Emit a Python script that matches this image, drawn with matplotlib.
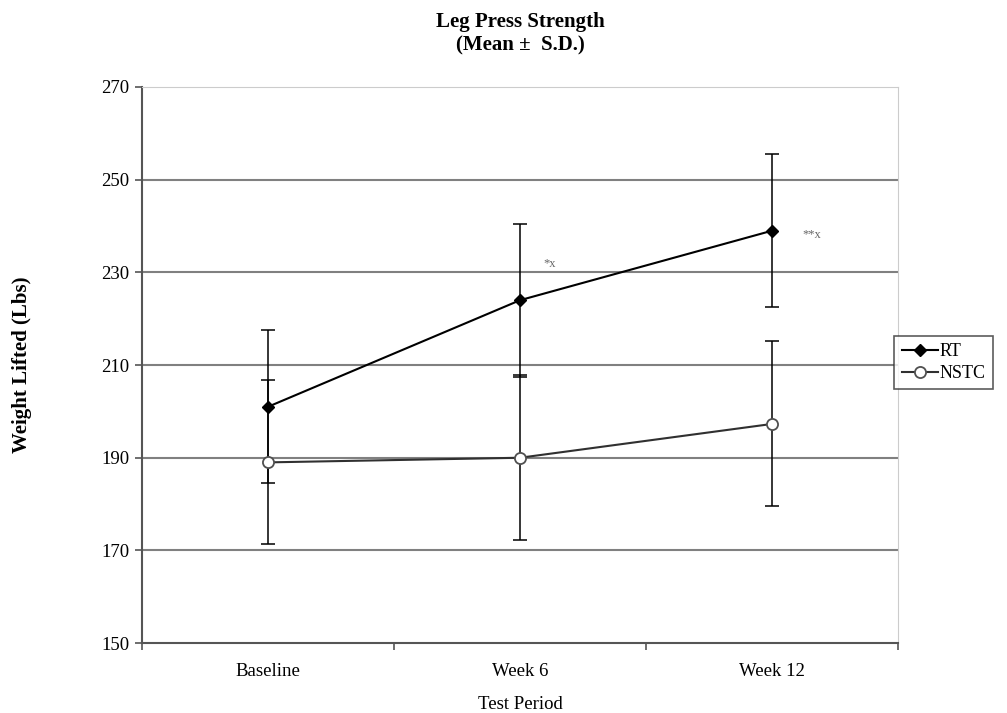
import matplotlib
matplotlib.use('Agg')
import matplotlib.pyplot as plt
import numpy as np

plt.rcParams['font.family'] = ['Liberation Serif', 'DejaVu Serif']

periods = ['Baseline', 'Week 6', 'Week 12']
rt_mean = [201, 224, 239]
rt_sd = [16.5, 16.5, 16.5]
nstc_mean = [189, 190, 197.3]
nstc_sd = [17.7, 17.8, 17.8]
marks = ['', '*x', '**x']

x = np.arange(len(periods))

fig = plt.figure(figsize=(10.07, 7.13), dpi=100)
ax = fig.add_axes([0.141, 0.098, 0.751, 0.780])

# grid lines
for v in range(170, 251, 20):
    ax.axhline(v, color='#808080', lw=1.5, zorder=1)

ax.errorbar(x, rt_mean, yerr=rt_sd, fmt='none', ecolor='black',
            elinewidth=1.1, capsize=5, capthick=1.1, zorder=2)
ax.errorbar(x, nstc_mean, yerr=nstc_sd, fmt='none', ecolor='black',
            elinewidth=1.1, capsize=5, capthick=1.1, zorder=2)
ax.plot(x, rt_mean, color='black', lw=1.5, marker='D', ms=6.5,
        mfc='black', mec='black', label='RT', zorder=3)
ax.plot(x, nstc_mean, color='#303030', lw=1.5, marker='o', ms=8,
        mfc='white', mec='#505050', mew=1.3, label='NSTC', zorder=3)

# significance marks beside the RT points
offsets = [(0, 0), (17, 26), (22, -3)]
for i, m in enumerate(marks):
    if m:
        ax.annotate(m, (x[i], rt_mean[i]), xytext=offsets[i],
                    textcoords='offset points', fontsize=9, color='#666666',
                    va='center')

ax.set_xlim(-0.5, 2.5)
ax.set_ylim(150, 270)
ax.set_yticks(range(150, 271, 20))
ax.set_xticks(x)
ax.set_xticklabels(periods)
ax.set_xticks([-0.5, 0.5, 1.5, 2.5], minor=True)
ax.tick_params(axis='x', which='major', length=0, pad=14, labelsize=13.5)
ax.tick_params(axis='x', which='minor', length=5, width=1.2, color='#555555')
ax.tick_params(axis='y', length=5, width=1.2, color='#555555', labelsize=13.5, pad=4)

ax.spines['left'].set_color('#555555')
ax.spines['left'].set_linewidth(1.5)
ax.spines['bottom'].set_color('#555555')
ax.spines['bottom'].set_linewidth(1.5)
ax.spines['top'].set_color('#cccccc')
ax.spines['right'].set_color('#cccccc')

ax.set_xlabel('Test Period', fontsize=13.5, labelpad=12)
ax.set_ylabel('Weight Lifted (Lbs)', fontsize=15, fontweight='bold', labelpad=50)
ax.set_title('Leg Press Strength\n(Mean \u00b1  S.D.)', fontsize=15,
             fontweight='bold', pad=26, linespacing=1.25)

leg = ax.legend(loc='upper left', bbox_to_anchor=(0.995, 0.552), fontsize=13,
                frameon=True, fancybox=False, edgecolor='#333333',
                handlelength=2.0, handletextpad=0.1, borderpad=0.4,
                labelspacing=0.25, borderaxespad=0)
leg.get_frame().set_linewidth(1.2)

fig.savefig('out.png', dpi=100)
